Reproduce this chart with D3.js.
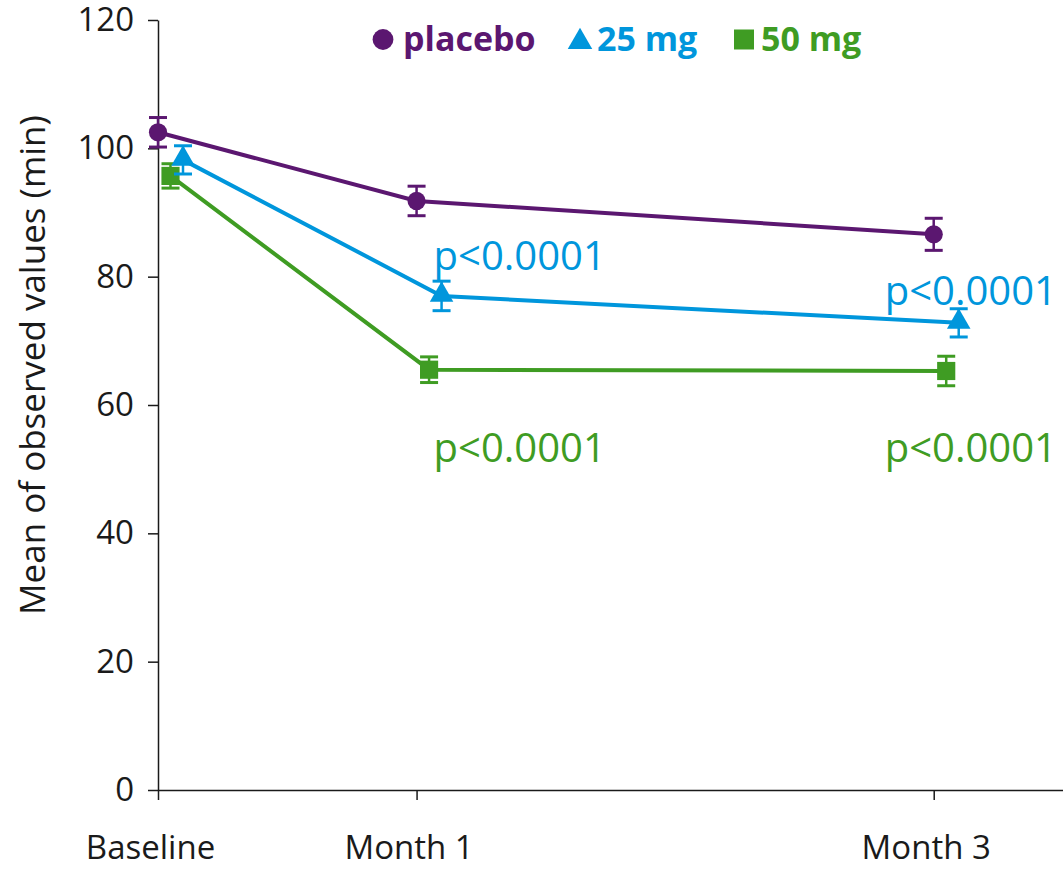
<!DOCTYPE html>
<html><head><meta charset="utf-8">
<script src="https://cdn.jsdelivr.net/npm/d3@7"></script>
<style>body{margin:0;background:#fff}svg{display:block}text{font-family:"Open Sans","Noto Sans",sans-serif}</style>
</head><body><svg id="c" width="1063" height="869"></svg>
<script>
const timepoints = ["Baseline", "Month 1", "Month 3"];
const timeMonths = [0, 1, 3];
const seriesNames = ["placebo", "25 mg", "50 mg"];
const placeboMean = [102.5, 91.8, 86.6];
const placeboErr = [2.3, 2.3, 2.5];
const mg25Mean = [98.2, 77.0, 72.8];
const mg25Err = [2.2, 2.3, 2.2];
const mg50Mean = [95.7, 65.5, 65.3];
const mg50Err = [1.9, 2.0, 2.3];
const pLabels25 = ["", "p<0.0001", "p<0.0001"];
const pLabels50 = ["", "p<0.0001", "p<0.0001"];
const yTicks = [0, 20, 40, 60, 80, 100, 120];

const colors = ["#5b1770", "#0096dc", "#3f9c23"];
const shapes = [d3.symbolCircle, d3.symbolTriangle, d3.symbolSquare];
const dodge = [0, 25, 12.5];

const svg = d3.select("#c");
const x = d3.scaleLinear().domain([0, 3.5]).range([158, 1063]);
const y = d3.scaleLinear().domain([0, 120]).range([790, 20]);

// axes
const yAx = svg.append("g").attr("transform", "translate(158,0)")
  .call(d3.axisLeft(y).tickValues(yTicks).tickSize(10).tickPadding(14).tickSizeOuter(0));
yAx.selectAll("text").attr("font-size", 33).attr("fill", "#1a1a1a");
yAx.selectAll("line,path").attr("stroke", "#1a1a1a").attr("stroke-width", 1.5);

const xAx = svg.append("g").attr("transform", "translate(0,790)")
  .call(d3.axisBottom(x).tickValues(timeMonths).tickFormat((d, i) => timepoints[i]).tickSize(10).tickPadding(36).tickSizeOuter(0));
xAx.selectAll("text").attr("font-size", 33).attr("fill", "#1a1a1a").attr("dx", -8);
xAx.selectAll("line,path").attr("stroke", "#1a1a1a").attr("stroke-width", 1.5);

svg.append("text").attr("transform", "translate(45,365) rotate(-90)")
  .attr("text-anchor", "middle").attr("font-size", 35).attr("fill", "#1a1a1a")
  .text("Mean of observed values (min)");

const series = [
  {means: placeboMean, errs: placeboErr},
  {means: mg25Mean, errs: mg25Err},
  {means: mg50Mean, errs: mg50Err}
];
const markerSize = [260, 240, 330];
const drawOrder = [2, 1, 0];
drawOrder.forEach(si => {
  const s = series[si];
  const c = colors[si];
  const g = svg.append("g");
  const pts = timeMonths.map((t, i) => ({px: x(t) + dodge[si], m: s.means[i], e: s.errs[i]}));
  g.append("path").datum(pts)
    .attr("d", d3.line().x(d => d.px).y(d => y(d.m)))
    .attr("fill", "none").attr("stroke", c).attr("stroke-width", 4);
  pts.forEach(d => {
    g.append("line").attr("x1", d.px).attr("x2", d.px).attr("y1", y(d.m - d.e)).attr("y2", y(d.m + d.e))
      .attr("stroke", c).attr("stroke-width", 2.5);
    [d.m - d.e, d.m + d.e].forEach(v => {
      g.append("line").attr("x1", d.px - 9).attr("x2", d.px + 9).attr("y1", y(v)).attr("y2", y(v))
        .attr("stroke", c).attr("stroke-width", 3);
    });
    g.append("path").attr("d", d3.symbol().type(shapes[si]).size(markerSize[si])())
      .attr("transform", `translate(${d.px},${y(d.m) + (si === 1 ? -1 : 0)})`).attr("fill", c);
  });
});

// p-value labels
const pl = [[pLabels25, colors[1], [270, 305]], [pLabels50, colors[2], [462, 462]]];
const pDx = [0, 17, -49];
pl.forEach(([labs, c, ys]) => {
  labs.forEach((t, i) => {
    if (!t) return;
    svg.append("text").attr("x", x(timeMonths[i]) + pDx[i]).attr("y", ys[i - 1])
      .attr("font-size", 40).attr("fill", c).text(t);
  });
});

// legend
const legX = [383, 580, 744];
const legSize = [340, 260, 400];
seriesNames.forEach((n, i) => {
  svg.append("path").attr("d", d3.symbol().type(shapes[i]).size(legSize[i])())
    .attr("transform", `translate(${legX[i]},${i === 1 ? 42 : 39.5})`).attr("fill", colors[i]);
  svg.append("text").attr("x", legX[i] + (i === 0 ? 20 : 17)).attr("y", 51)
    .attr("font-size", 34).attr("font-weight", "bold").attr("fill", colors[i]).text(n);
});
</script></body></html>
